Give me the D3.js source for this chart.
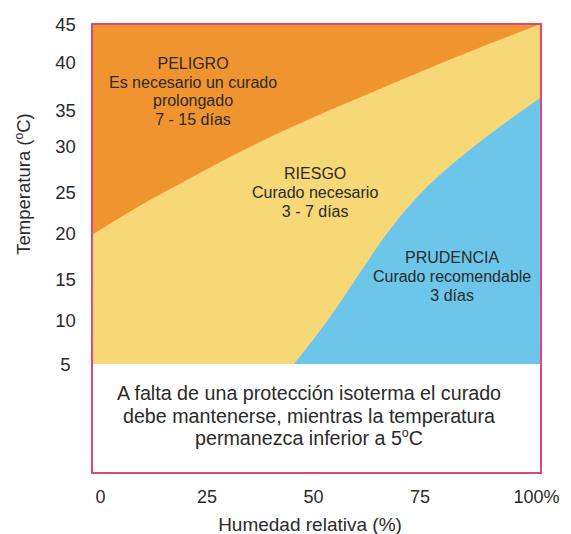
<!DOCTYPE html>
<html>
<head>
<meta charset="utf-8">
<script src="https://cdn.jsdelivr.net/npm/d3@7"></script>
<style>
  html, body { margin: 0; padding: 0; background: #ffffff; }
  svg { display: block; font-family: "Liberation Sans", Arial, Helvetica, sans-serif; }
</style>
</head>
<body>
<svg id="chart" width="571" height="534"></svg>
<script>
// ---------------- data ----------------
const humidityTicks = [0, 25, 50, 75, 100];
const temperatureTicks = [5, 10, 15, 20, 25, 30, 35, 40, 45];

// boundary between PELIGRO (above) and RIESGO
const dangerHumidity = [0, 9.6, 19.6, 30.7, 41.9, 53.0, 64.1, 75.3, 86.4, 100];
const dangerTemperature = [19.8, 23.0, 25.9, 28.8, 31.9, 35.0, 37.2, 39.4, 41.9, 45];

// boundary between RIESGO and PRUDENCIA (right / below)
const cautionHumidity = [45.0, 50.8, 56.3, 60.1, 63.7, 68.2, 73.5, 79.7, 87.5, 94.2, 100];
const cautionTemperature = [5, 8.8, 13.0, 16.0, 18.6, 21.7, 25.0, 27.8, 31.1, 34.2, 36.3];

const zoneTitles = ["PELIGRO", "RIESGO", "PRUDENCIA"];
const zoneLines = [
  ["Es necesario un curado", "prolongado", "7 - 15 días"],
  ["Curado necesario", "3 - 7 días"],
  ["Curado recomendable", "3 días"]
];
const zoneHumidity = [22.5, 49.7, 80.2];
const zoneTemperature = [39.3, 26.4, 16.7];

const noteLines = [
  "A falta de una protección isoterma el curado",
  "debe mantenerse, mientras la temperatura",
  "permanezca inferior a 5"
];

// ---------------- layout ----------------
const svg = d3.select("#chart");
const frameLeft = 92, frameRight = 541, frameTop = 24, frameBottom = 473;
const colors = { danger: "#f0942f", risk: "#f6d877", caution: "#6cc6ea", frame: "#e0457b", text: "#2a2a2a" };

const x = d3.scaleLinear().domain([0, 100]).range([frameLeft, frameRight]);
const y = d3.scaleLinear().domain(temperatureTicks)
  .range([364, 320, 279, 233, 192, 146, 110, 62, 24]);
const xLabel = d3.scaleLinear().domain([0, 100]).range([100, 526]);

// base (RIESGO) zone
svg.append("rect")
  .attr("x", x(0)).attr("y", y(45))
  .attr("width", x(100) - x(0)).attr("height", y(5) - y(45))
  .attr("fill", colors.risk);

// PELIGRO zone
const dangerPts = dangerHumidity.map((h, i) => [h, dangerTemperature[i]]);
const dangerArea = d3.area()
  .x(d => x(d[0])).y0(y(45)).y1(d => y(d[1]))
  .curve(d3.curveMonotoneX);
svg.append("path").attr("d", dangerArea(dangerPts)).attr("fill", colors.danger);

// PRUDENCIA zone
const cautionPts = cautionHumidity.map((h, i) => [h, cautionTemperature[i]]);
const cautionArea = d3.area()
  .x(d => x(d[0])).y0(y(5)).y1(d => y(d[1]))
  .curve(d3.curveMonotoneX);
svg.append("path").attr("d", cautionArea(cautionPts)).attr("fill", colors.caution);

// white lower area + frame
svg.append("rect")
  .attr("x", x(0)).attr("y", y(5))
  .attr("width", x(100) - x(0)).attr("height", frameBottom - y(5))
  .attr("fill", "#ffffff");
svg.append("rect")
  .attr("x", frameLeft).attr("y", frameTop)
  .attr("width", frameRight - frameLeft).attr("height", frameBottom - frameTop)
  .attr("fill", "none").attr("stroke", colors.frame).attr("stroke-width", 2);

// Y axis tick labels
const yAxis = d3.axisLeft(y).tickValues(temperatureTicks).tickSize(0).tickPadding(0);
const gy = svg.append("g").attr("transform", "translate(65.5,0)").call(yAxis);
gy.select(".domain").remove();
gy.selectAll("text")
  .attr("text-anchor", "middle").attr("x", 0).attr("dy", "0.35em")
  .attr("font-size", 18.5).attr("fill", colors.text)
  .attr("font-family", "'Liberation Sans', Arial, sans-serif");

// X axis tick labels
const xAxis = d3.axisBottom(xLabel).tickValues(humidityTicks).tickSize(0).tickPadding(0)
  .tickFormat(d => d === 100 ? "100%" : d);
const gx = svg.append("g").attr("transform", "translate(0,503)").call(xAxis);
gx.select(".domain").remove();
gx.selectAll("text")
  .attr("y", 0).attr("dy", 0)
  .attr("font-size", 18).attr("fill", colors.text)
  .attr("font-family", "'Liberation Sans', Arial, sans-serif")
  .attr("text-anchor", d => d === 100 ? "start" : "middle")
  .attr("dx", d => d === 100 ? -13 : 0);

// axis titles
svg.append("text")
  .attr("x", 310).attr("y", 531)
  .attr("text-anchor", "middle").attr("font-size", 19).attr("fill", colors.text)
  .text("Humedad relativa (%)");

const yt = svg.append("text")
  .attr("transform", "translate(30,184) rotate(-90)")
  .attr("text-anchor", "middle").attr("font-size", 18.5).attr("fill", colors.text);
yt.append("tspan").text("Temperatura (");
yt.append("tspan").attr("font-size", 12).attr("dy", -7).text("o");
yt.append("tspan").attr("dy", 7).text("C)");

// zone annotations
zoneTitles.forEach((title, i) => {
  const t = svg.append("text")
    .attr("x", x(zoneHumidity[i])).attr("y", y(zoneTemperature[i]))
    .attr("text-anchor", "middle").attr("font-size", 16).attr("fill", colors.text);
  t.append("tspan").attr("x", x(zoneHumidity[i])).attr("dy", 0).text(title);
  zoneLines[i].forEach(line => {
    t.append("tspan").attr("x", x(zoneHumidity[i])).attr("dy", 18.8).text(line);
  });
});

// note in the lower area
const note = svg.append("text")
  .attr("text-anchor", "middle").attr("font-size", 19.7).attr("fill", colors.text);
noteLines.forEach((line, i) => {
  note.append("tspan").attr("x", 309).attr("y", 400 + i * 22.5).text(line);
});
const last = note.select("tspan:last-child");
last.append("tspan").attr("font-size", 12.5).attr("dy", -8).text("o");
last.append("tspan").attr("dy", 8).text("C");
</script>
</body>
</html>
